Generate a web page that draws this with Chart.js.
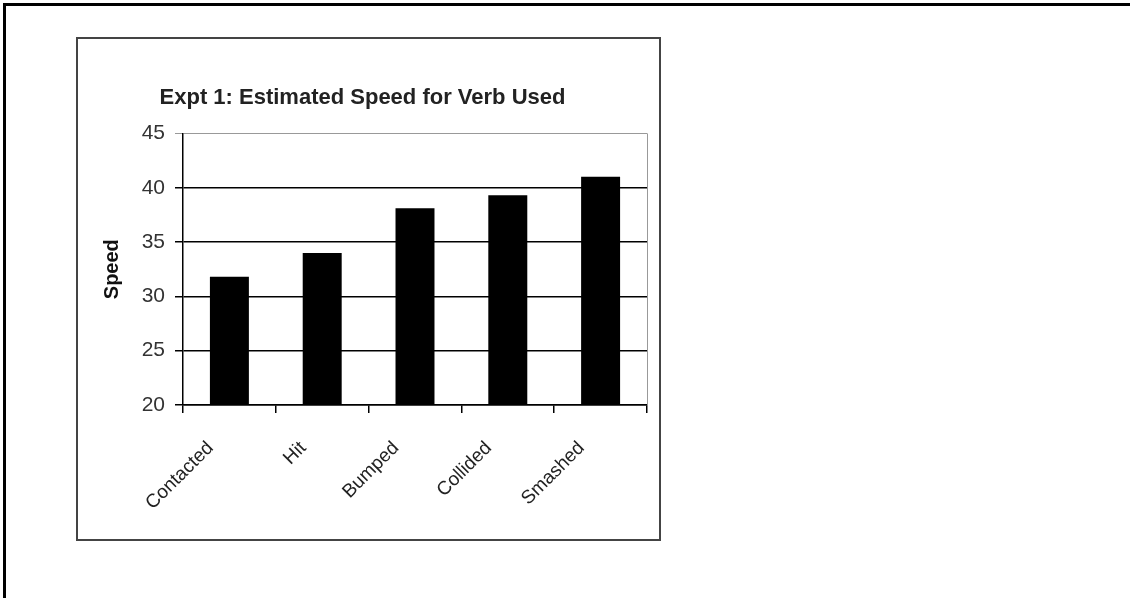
<!DOCTYPE html>
<html>
<head>
<meta charset="utf-8">
<script src="https://cdn.jsdelivr.net/npm/chart.js@4"></script>
<style>
  html, body { margin: 0; padding: 0; background: #fff; }
  body { width: 1130px; height: 598px; position: relative; overflow: hidden; }
  #frame {
    position: absolute; left: 3px; top: 3px; right: -10px; bottom: -10px;
    border-top: 3px solid #000; border-left: 3px solid #000;
  }
  #box {
    position: absolute; left: 76px; top: 37px; width: 581px; height: 500px;
    border: 2px solid #444;
  }
  #box canvas { display: block; }
</style>
</head>
<body>
<div id="frame"></div>
<div id="box"><canvas id="myChart" width="581" height="500"></canvas></div>
<script>
// categories and values
const verbs = ['Contacted', 'Hit', 'Bumped', 'Collided', 'Smashed'];
const speeds = [31.8, 34.0, 38.1, 39.3, 41.0];
const yTicks = [20, 25, 30, 35, 40, 45];

// right edge of the plot box (grey, like the top line)
const plotEdge = {
    id: 'plotEdge',
    afterDraw(chart) {
        const a = chart.chartArea;
        const c = chart.ctx;
        c.save();
        c.strokeStyle = '#999';
        c.lineWidth = 1;
        c.beginPath();
        c.moveTo(a.right + 0.5, a.top);
        c.lineTo(a.right + 0.5, a.bottom);
        c.stroke();
        c.restore();
    }
};

const ctx = document.getElementById('myChart').getContext('2d');
const myChart = new Chart(ctx, {
    type: 'bar',
    data: {
        labels: verbs,
        datasets: [{
            label: 'Speed',
            data: speeds,
            backgroundColor: '#000',
            borderWidth: 0,
            barPercentage: 0.42,
            categoryPercentage: 1
        }]
    },
    plugins: [plotEdge],
    options: {
        responsive: false,
        animation: false,
        layout: { padding: { left: 0, right: 12, top: 0, bottom: 0 } },
        plugins: {
            legend: { display: false },
            tooltip: { enabled: false },
            title: {
                display: true,
                text: 'Expt 1: Estimated Speed for Verb Used',
                color: '#222',
                font: { family: 'Liberation Sans, Arial, sans-serif', size: 22, weight: 'bold' },
                padding: { top: 46, bottom: 22 }
            }
        },
        scales: {
            x: {
                afterFit: s => { s.height = 134; },
                border: { color: '#000', width: 1.5 },
                grid: { drawOnChartArea: false, drawTicks: true, tickLength: 8, color: '#000', lineWidth: 1.5 },
                ticks: {
                    color: '#222',
                    font: { family: 'Liberation Sans, Arial, sans-serif', size: 19 },
                    minRotation: 45,
                    maxRotation: 45,
                    labelOffset: -19,
                    padding: 24
                }
            },
            y: {
                min: 20,
                max: 45,
                afterFit: s => { s.width = 105; },
                afterBuildTicks: s => { s.ticks = yTicks.map(v => ({ value: v })); },
                border: { color: '#000', width: 1.5 },
                grid: {
                    color: c => (c.tick && c.tick.value === 45) ? '#999' : '#000',
                    lineWidth: c => (c.tick && c.tick.value === 45) ? 1 : 1.5,
                    tickLength: 8
                },
                ticks: {
                    color: '#333',
                    font: { family: 'Liberation Sans, Arial, sans-serif', size: 21 },
                    padding: 10
                },
                title: {
                    display: true,
                    text: 'Speed',
                    color: '#111',
                    font: { family: 'Liberation Sans, Arial, sans-serif', size: 20, weight: 'bold' },
                    padding: { top: 22, bottom: 0 }
                }
            }
        }
    }
});
</script>
</body>
</html>
